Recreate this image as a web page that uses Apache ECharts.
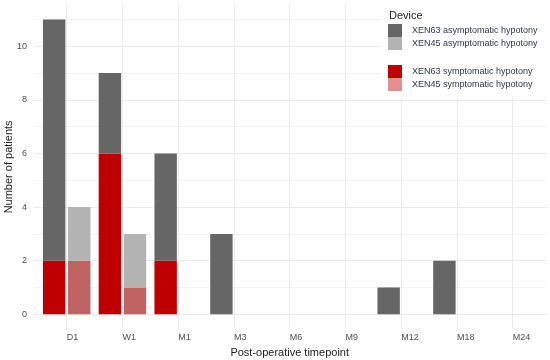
<!DOCTYPE html>
<html>
<head>
<meta charset="utf-8">
<script src="https://cdn.jsdelivr.net/npm/echarts@6/dist/echarts.min.js"></script>
<style>html,body{margin:0;padding:0;background:#fff}#c{width:550px;height:360px}</style>
</head>
<body>
<div id="c"></div>
<script>
const categories = ['D1', 'W1', 'M1', 'M3', 'M6', 'M9', 'M12', 'M18', 'M24'];
const xen63Symptomatic = [2, 6, 2, 0, 0, 0, 0, 0, 0];
const xen63Asymptomatic = [9, 3, 4, 3, 0, 0, 1, 2, 0];
const xen45Symptomatic = [2, 1, 0, 0, 0, 0, 0, 0, 0];
const xen45Asymptomatic = [2, 2, 0, 0, 0, 0, 0, 0, 0];
const yTicks = [0, 2, 4, 6, 8, 10];

const FONT = '"Liberation Sans", Arial, sans-serif';
const chart = echarts.init(document.getElementById('c'), null, {renderer: 'canvas'});

function barSeries(name, data, stack, color) {
  return {
    name: name, type: 'bar', stack: stack, data: data,
    xAxisIndex: 1, yAxisIndex: 2, clip: false,
    barWidth: 22.4, barGap: '12%',
    itemStyle: {color: color}, emphasis: {disabled: true}
  };
}

const option = {
  animation: false,
  backgroundColor: '#ffffff',
  textStyle: {fontFamily: FONT},
  grid: [
    {left: 33.6, right: 3.6, top: 4.8, bottom: 45.7, containLabel: false, outerBoundsMode: 'none'},
    {left: 66.7, right: 37.3, top: 4.8, bottom: 31, containLabel: false, outerBoundsMode: 'none'}
  ],
  xAxis: [
    {gridIndex: 0, type: 'value', show: false, min: 0, max: 1},
    {gridIndex: 1, type: 'category', data: categories, boundaryGap: false,
     axisLine: {show: false}, axisTick: {show: false},
     splitLine: {show: true, lineStyle: {color: '#ebebeb', width: 1}},
     axisLabel: {interval: 0, align: 'left', margin: 4.5, fontSize: 9, color: '#4d4d4d', fontFamily: FONT},
     name: 'Post-operative timepoint', nameLocation: 'middle', nameGap: 12,
     nameTextStyle: {fontSize: 11, color: '#1a1a1a', fontFamily: FONT}}
  ],
  yAxis: [
    {gridIndex: 0, type: 'value', min: 0, max: 11.55, interval: 1, position: 'left', z: 0,
     axisLine: {show: false}, axisTick: {show: false}, axisLabel: {show: false},
     splitLine: {show: true, showMaxLine: false, lineStyle: {color: '#f3f3f3', width: 1}}},
    {gridIndex: 0, type: 'value', min: 0, max: 11.55, interval: 2, position: 'left', z: 1,
     axisLine: {show: false}, axisTick: {show: false},
     splitLine: {show: true, showMaxLine: false, lineStyle: {color: '#ebebeb', width: 1}},
     axisLabel: {margin: 6.5, fontSize: 9, color: '#4d4d4d', fontFamily: FONT, showMaxLabel: false,
       formatter: function (v) { return yTicks.indexOf(v) >= 0 ? String(v) : ''; }}},
    {gridIndex: 1, type: 'value', min: -0.55, max: 11.55,
     axisLine: {show: false}, axisTick: {show: false}, axisLabel: {show: false},
     splitLine: {show: false},
     name: 'Number of patients', nameLocation: 'middle', nameRotate: 90, nameGap: 52,
     nameTextStyle: {fontSize: 11, color: '#1a1a1a', fontFamily: FONT}}
  ],
  legend: [
    {orient: 'vertical', left: 388, top: 24, padding: 0, itemGap: 0,
     itemWidth: 14, itemHeight: 13, icon: 'rect',
     textStyle: {fontSize: 9, color: '#2b3744', fontFamily: FONT, padding: [0, 0, 0, 5]},
     data: ['XEN63 asymptomatic hypotony', 'XEN45 asymptomatic hypotony'], selectedMode: false},
    {orient: 'vertical', left: 388, top: 65, padding: 0, itemGap: 0,
     itemWidth: 14, itemHeight: 13, icon: 'rect',
     textStyle: {fontSize: 9, color: '#2b3744', fontFamily: FONT, padding: [0, 0, 0, 5]},
     data: ['XEN63 symptomatic hypotony', {name: 'XEN45 symptomatic hypotony', itemStyle: {color: '#e39090'}}],
     selectedMode: false}
  ],
  graphic: [
    {type: 'rect', left: 381, top: 0, z: 3, silent: true,
     shape: {width: 169, height: 97}, style: {fill: '#ffffff'}},
    {type: 'text', left: 389, top: 10, z: 5, silent: true,
     style: {text: 'Device', font: '11px ' + FONT, fill: '#1a1a1a'}}
  ],
  series: [
    barSeries('XEN63 symptomatic hypotony', xen63Symptomatic, 'xen63', '#c00000'),
    barSeries('XEN63 asymptomatic hypotony', xen63Asymptomatic, 'xen63', '#666666'),
    barSeries('XEN45 symptomatic hypotony', xen45Symptomatic, 'xen45', '#be6262'),
    barSeries('XEN45 asymptomatic hypotony', xen45Asymptomatic, 'xen45', '#b3b3b3')
  ]
};
chart.setOption(option);
</script>
</body>
</html>
